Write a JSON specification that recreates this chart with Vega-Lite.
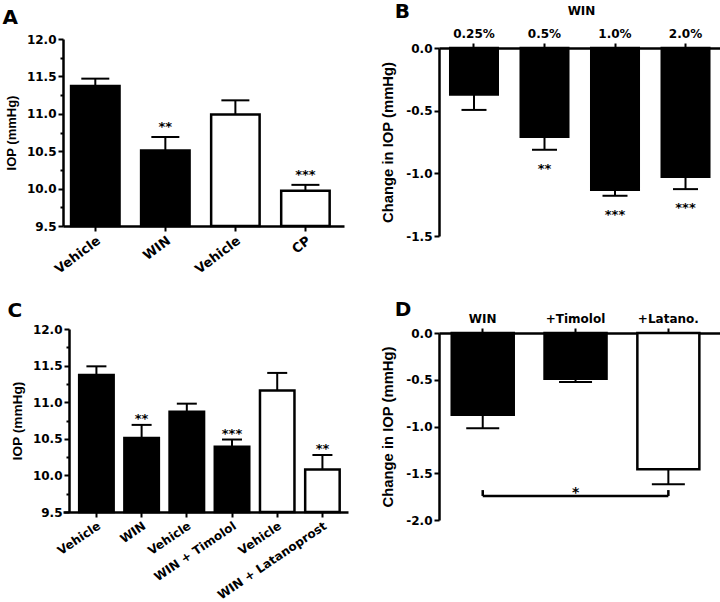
{
  "$schema": "https://vega.github.io/schema/vega-lite/v6.json",
  "background": "white",
  "padding": {"left": 2, "top": 2, "right": 0, "bottom": 0},
  "config": {
    "view": {"stroke": null},
    "font": "DejaVu Sans",
    "title": {"font": "DejaVu Sans", "fontSize": 20, "fontWeight": "bold", "anchor": "start", "frame": "bounds", "color": "black"},
    "axis": {
      "labelFont": "DejaVu Sans", "labelFontWeight": "bold", "labelFontSize": 12, "labelColor": "black",
      "titleFont": "Liberation Sans", "titleFontWeight": "bold", "titleFontSize": 13, "titleColor": "black",
      "domainColor": "black", "domainWidth": 2.5, "tickColor": "black", "tickWidth": 2, "tickSize": 5,
      "labelPadding": 2, "grid": false, "labelOverlap": false, "labelFlush": false
    }
  },
  "spacing": 32,
  "hconcat": [
    {
      "spacing": 24,
      "vconcat": [
        {
          "title": {"text": "A", "offset": 5, "dx": -3},
          "width": 281, "height": 187,
          "data": {"values": [
            {"bar": "Vehicle (WIN)", "series": "WIN", "iop": 11.37, "upper": 11.47, "sig": ""},
            {"bar": "WIN", "series": "WIN", "iop": 10.51, "upper": 10.69, "sig": "**"},
            {"bar": "Vehicle (CP)", "series": "CP", "iop": 10.99, "upper": 11.18, "sig": ""},
            {"bar": "CP", "series": "CP", "iop": 9.97, "upper": 10.05, "sig": "***"}
          ]},
          "resolve": {"axis": {"y": "independent"}},
          "encoding": {
            "x": {"field": "bar", "type": "nominal", "sort": null,
              "scale": {"domain": ["Vehicle (WIN)", "WIN", "Vehicle (CP)", "CP"], "paddingInner": 0.308, "paddingOuter": 0.16, "align": 0.36},
              "axis": {"title": null, "labelAngle": -37, "labelFontSize": 13, "labelPadding": 3, "labelExpr": "split(datum.value, ' (')[0]"}}
          },
          "layer": [
            {"mark": {"type": "bar", "stroke": "black", "strokeWidth": 2.5},
             "encoding": {
               "y": {"field": "iop", "type": "quantitative", "scale": {"domain": [9.5, 12], "zero": false, "nice": false},
                 "axis": {"orient": "left", "title": "IOP (mmHg)", "titleFontSize": 13, "titlePadding": 8, "values": [9.5, 10, 10.5, 11, 11.5, 12], "format": ".1f"}},
               "y2": {"datum": 9.5},
               "fill": {"field": "series", "type": "nominal", "scale": {"domain": ["WIN", "CP"], "range": ["black", "white"]}, "legend": null}
             }},
            {"mark": {"type": "rule", "strokeWidth": 2, "color": "black"},
             "encoding": {"y": {"field": "iop", "type": "quantitative",
                 "axis": {"orient": "left", "title": null, "labels": false, "domain": false, "tickSize": 3, "values": [9.75, 10.25, 10.75, 11.25, 11.75]}},
               "y2": {"field": "upper"}}},
            {"mark": {"type": "tick", "thickness": 2, "size": 28, "color": "black", "opacity": 1},
             "encoding": {"y": {"field": "upper", "type": "quantitative", "axis": null}}},
            {"mark": {"type": "text", "fontWeight": "bold", "fontSize": 13, "baseline": "alphabetic", "dy": -6, "color": "black"},
             "encoding": {"y": {"field": "upper", "type": "quantitative", "axis": null}, "text": {"field": "sig"}}}
          ]
        },
        {
          "title": {"text": "C", "offset": 2, "dx": -3},
          "width": 285, "height": 183,
          "data": {"values": [
            {"bar": "Vehicle (WIN)", "series": "WIN", "iop": 11.37, "upper": 11.49, "sig": ""},
            {"bar": "WIN", "series": "WIN", "iop": 10.51, "upper": 10.69, "sig": "**"},
            {"bar": "Vehicle (WIN + Timolol)", "series": "WIN + Timolol", "iop": 10.87, "upper": 10.98, "sig": ""},
            {"bar": "WIN + Timolol", "series": "WIN + Timolol", "iop": 10.39, "upper": 10.49, "sig": "***"},
            {"bar": "Vehicle (WIN + Latanoprost)", "series": "WIN + Latanoprost", "iop": 11.16, "upper": 11.40, "sig": ""},
            {"bar": "WIN + Latanoprost", "series": "WIN + Latanoprost", "iop": 10.08, "upper": 10.28, "sig": "**"}
          ]},
          "resolve": {"axis": {"y": "independent"}},
          "encoding": {
            "x": {"field": "bar", "type": "nominal", "sort": null,
              "scale": {"domain": ["Vehicle (WIN)", "WIN", "Vehicle (WIN + Timolol)", "WIN + Timolol", "Vehicle (WIN + Latanoprost)", "WIN + Latanoprost"], "paddingInner": 0.237, "paddingOuter": 0.271, "align": 0.66},
              "axis": {"title": null, "labelAngle": -34, "labelFontSize": 12, "labelPadding": 3, "labelExpr": "split(datum.value, ' (')[0]"}}
          },
          "layer": [
            {"mark": {"type": "bar", "stroke": "black", "strokeWidth": 2.5},
             "encoding": {
               "y": {"field": "iop", "type": "quantitative", "scale": {"domain": [9.5, 12], "zero": false, "nice": false},
                 "axis": {"orient": "left", "title": "IOP (mmHg)", "titleFontSize": 13.7, "titlePadding": 8, "offset": -6, "values": [9.5, 10, 10.5, 11, 11.5, 12], "format": ".1f"}},
               "y2": {"datum": 9.5},
               "fill": {"field": "series", "type": "nominal", "scale": {"domain": ["WIN", "WIN + Timolol", "WIN + Latanoprost"], "range": ["black", "#2a2a2a", "white"]}, "legend": null}
             }},
            {"mark": {"type": "rule", "strokeWidth": 2, "color": "black"},
             "encoding": {"y": {"field": "iop", "type": "quantitative",
                 "axis": {"orient": "left", "title": null, "labels": false, "domain": false, "tickSize": 3, "offset": -6, "values": [9.75, 10.25, 10.75, 11.25, 11.75]}},
               "y2": {"field": "upper"}}},
            {"mark": {"type": "tick", "thickness": 2, "size": 20, "color": "black", "opacity": 1},
             "encoding": {"y": {"field": "upper", "type": "quantitative", "axis": null}}},
            {"mark": {"type": "text", "fontWeight": "bold", "fontSize": 13, "baseline": "alphabetic", "dy": -2, "color": "black"},
             "encoding": {"y": {"field": "upper", "type": "quantitative", "axis": null}, "text": {"field": "sig"}}}
          ]
        }
      ]
    },
    {
      "spacing": 58,
      "vconcat": [
        {
          "title": {"text": "B", "offset": -18, "dx": 14},
          "width": 284, "height": 197,
          "data": {"values": [
            {"dose": "0.25%", "change": -0.372, "lower": -0.494, "sig": ""},
            {"dose": "0.5%", "change": -0.709, "lower": -0.812, "sig": "**"},
            {"dose": "1.0%", "change": -1.131, "lower": -1.179, "sig": "***"},
            {"dose": "2.0%", "change": -1.027, "lower": -1.126, "sig": "***"}
          ]},
          "encoding": {
            "x": {"field": "dose", "type": "nominal", "sort": null,
              "scale": {"domain": ["0.25%", "0.5%", "1.0%", "2.0%"], "paddingInner": 0.326, "paddingOuter": 0.177, "align": 0.45},
              "axis": {"orient": "top", "offset": -9, "title": "WIN", "titleFont": "DejaVu Sans", "titleFontSize": 12, "titlePadding": 10, "labelAngle": 0, "labelPadding": 3}}
          },
          "layer": [
            {"mark": {"type": "bar", "stroke": "black", "strokeWidth": 2.5, "fill": "black"},
             "encoding": {
               "y": {"field": "change", "type": "quantitative", "scale": {"domain": [-1.5, 0], "nice": false, "range": [197, 9]},
                 "axis": {"title": "Change in IOP (mmHg)", "titleFontSize": 14.8, "titlePadding": 10, "labelOverlap": false, "values": [0, -0.25, -0.5, -0.75, -1, -1.25, -1.5],
                   "labelExpr": "abs(datum.value*2 - round(datum.value*2)) > 0.01 ? '' : (datum.value < 0 ? '-' : '') + format(abs(datum.value), '.1f')",
                   "tickSize": {"condition": {"test": "abs(datum.value*2 - round(datum.value*2)) > 0.01", "value": 3}, "value": 5}}},
               "y2": {"datum": 0}
             }},
            {"mark": {"type": "rule", "strokeWidth": 2, "color": "black"},
             "encoding": {"y": {"field": "change", "type": "quantitative"}, "y2": {"field": "lower"}}},
            {"mark": {"type": "tick", "thickness": 2, "size": 25, "color": "black", "opacity": 1},
             "encoding": {"y": {"field": "lower", "type": "quantitative"}}},
            {"mark": {"type": "text", "fontWeight": "bold", "fontSize": 13, "baseline": "alphabetic", "dy": 23, "color": "black"},
             "encoding": {"y": {"field": "lower", "type": "quantitative"}, "text": {"field": "sig"}}}
          ]
        },
        {
          "title": {"text": "D", "offset": -8, "dx": 14},
          "width": 284, "height": 187,
          "data": {"values": [
            {"treatment": "WIN", "change": -0.875, "lower": -1.018},
            {"treatment": "+Timolol", "change": -0.489, "lower": -0.525},
            {"treatment": "+Latano.", "change": -1.457, "lower": -1.618}
          ]},
          "encoding": {
            "x": {"field": "treatment", "type": "nominal", "sort": null,
              "scale": {"domain": ["WIN", "+Timolol", "+Latano."], "paddingInner": 0.332, "paddingOuter": 0.196, "align": 0.35},
              "axis": {"orient": "top", "title": null, "labelAngle": 0, "labelPadding": 3}}
          },
          "layer": [
            {"mark": {"type": "bar", "stroke": "black", "strokeWidth": 2.5},
             "encoding": {
               "y": {"field": "change", "type": "quantitative", "scale": {"domain": [-2, 0], "nice": false},
                 "axis": {"title": "Change in IOP (mmHg)", "titleFontSize": 14.8, "titlePadding": 10, "labelOverlap": false, "values": [0, -0.25, -0.5, -0.75, -1, -1.25, -1.5, -1.75, -2],
                   "labelExpr": "abs(datum.value*2 - round(datum.value*2)) > 0.01 ? '' : (datum.value < 0 ? '-' : '') + format(abs(datum.value), '.1f')",
                   "tickSize": {"condition": {"test": "abs(datum.value*2 - round(datum.value*2)) > 0.01", "value": 3}, "value": 5}}},
               "y2": {"datum": 0},
               "fill": {"field": "treatment", "type": "nominal", "scale": {"domain": ["WIN", "+Timolol", "+Latano."], "range": ["black", "#2a2a2a", "white"]}, "legend": null}
             }},
            {"mark": {"type": "rule", "strokeWidth": 2, "color": "black"},
             "encoding": {"y": {"field": "change", "type": "quantitative"}, "y2": {"field": "lower"}}},
            {"mark": {"type": "tick", "thickness": 2, "size": 33, "color": "black", "opacity": 1},
             "encoding": {"y": {"field": "lower", "type": "quantitative"}}},
            {"data": {"values": [{"from": "WIN", "to": "+Latano."}]},
             "mark": {"type": "rule", "strokeWidth": 2.5, "color": "black"},
             "encoding": {"x": {"field": "from", "type": "nominal"}, "x2": {"field": "to"}, "y": {"datum": -1.743}}},
            {"data": {"values": [{"end": "WIN"}, {"end": "+Latano."}]},
             "mark": {"type": "rule", "strokeWidth": 2.5, "color": "black"},
             "encoding": {"x": {"field": "end", "type": "nominal"}, "y": {"datum": -1.743}, "y2": {"datum": -1.68}}},
            {"data": {"values": [{"star": "*", "mid": "+Timolol"}]},
             "mark": {"type": "text", "fontWeight": "bold", "fontSize": 14, "baseline": "alphabetic", "dy": 1, "color": "black"},
             "encoding": {"x": {"field": "mid", "type": "nominal"}, "y": {"datum": -1.743}, "text": {"field": "star"}}}
          ]
        }
      ]
    }
  ]
}
